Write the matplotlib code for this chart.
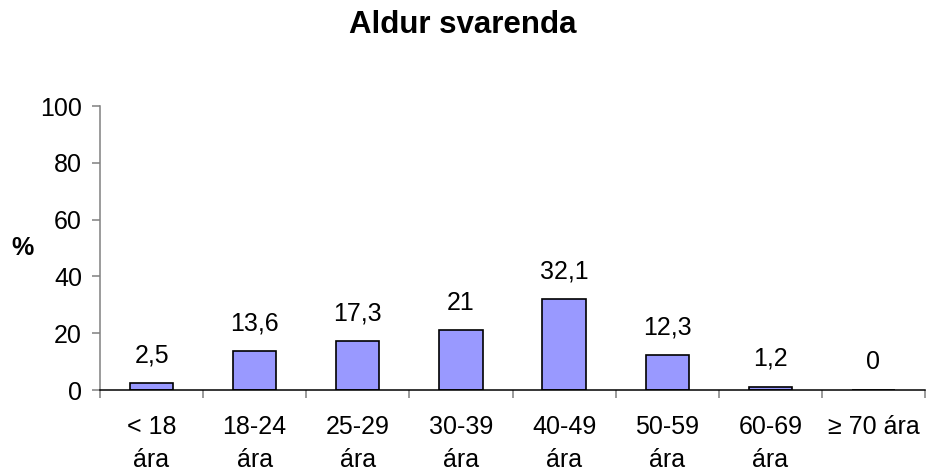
import matplotlib
matplotlib.use("Agg")
import matplotlib.pyplot as plt

# age groups and share of respondents (%)
categories = ["< 18\nára", "18-24\nára", "25-29\nára", "30-39\nára",
              "40-49\nára", "50-59\nára", "60-69\nára", "≥ 70 ára"]
values = [2.5, 13.6, 17.3, 21, 32.1, 12.3, 1.2, 0]
yticks = [0, 20, 40, 60, 80, 100]

plt.rcParams["font.family"] = ["Liberation Sans", "DejaVu Sans"]
fs = 18

fig = plt.figure(figsize=(9.26, 4.73), dpi=100)
ax = fig.add_axes([100 / 926, 1 - 390 / 473, 825 / 926, 284 / 473])

x = list(range(len(categories)))
ax.bar(x, values, width=0.42, color="#9999FF", edgecolor="black", linewidth=1.2)

for xi, v in zip(x, values):
    label = f"{v:g}".replace(".", ",")
    ax.annotate(label, (xi, v), xytext=(0, 15), textcoords="offset points",
                ha="center", va="baseline", fontsize=fs)

ax.set_xlim(-0.5, len(categories) - 0.5)
ax.set_ylim(0, 100)
ax.set_yticks(yticks)
ax.set_yticklabels([str(t) for t in yticks], fontsize=fs)
ax.set_xticks(x)
ax.set_xticklabels(categories, fontsize=fs, linespacing=1.45)
ax.set_xticks([i - 0.5 for i in range(len(categories) + 1)], minor=True)

ax.tick_params(axis="x", which="major", length=0, pad=18)
ax.tick_params(axis="x", which="minor", length=6, width=1.1, color="#808080")
ax.tick_params(axis="y", length=6, width=1.1, color="#808080", pad=7)

for side in ("top", "right"):
    ax.spines[side].set_visible(False)
ax.spines["left"].set_color("#808080")
ax.spines["left"].set_linewidth(1.1)
ax.spines["bottom"].set_color("black")
ax.spines["bottom"].set_linewidth(1.1)

fig.text(0.5, 1 - 25 / 473, "Aldur svarenda", ha="center", va="center",
         fontsize=22.5, fontweight="bold")
fig.text(22 / 926, 1 - 248 / 473, "%", ha="center", va="center",
         fontsize=fs, fontweight="bold")

fig.savefig("out.png", dpi=100)
